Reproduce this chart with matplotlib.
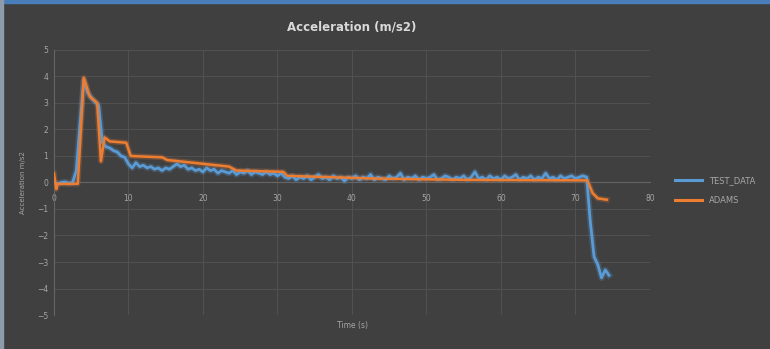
import numpy as np
import matplotlib
matplotlib.use("Agg")
import matplotlib.pyplot as plt
from matplotlib.patches import Rectangle

# TEST_DATA, sampled every 0.5 s
test_t = np.arange(0, 75, 0.5)
test_v = [
    0.00, -0.05, 0.00, 0.02, -0.03, 0.00, 0.45, 2.20, 3.85, 3.40,
    3.20, 3.05, 2.90, 1.50, 1.35, 1.30, 1.20, 1.15, 1.00, 0.95,
    0.70, 0.55, 0.75, 0.60, 0.65, 0.55, 0.60, 0.50, 0.55, 0.45,
    0.55, 0.50, 0.60, 0.70, 0.60, 0.65, 0.50, 0.55, 0.45, 0.50,
    0.40, 0.55, 0.45, 0.50, 0.35, 0.45, 0.40, 0.35, 0.45, 0.30,
    0.40, 0.35, 0.45, 0.30, 0.40, 0.35, 0.30, 0.40, 0.30, 0.35,
    0.25, 0.35, 0.20, 0.15, 0.25, 0.10, 0.20, 0.15, 0.25, 0.10,
    0.20, 0.30, 0.15, 0.20, 0.10, 0.25, 0.15, 0.20, 0.05, 0.20,
    0.15, 0.25, 0.10, 0.20, 0.15, 0.30, 0.10, 0.20, 0.15, 0.10,
    0.25, 0.15, 0.20, 0.35, 0.10, 0.20, 0.15, 0.25, 0.10, 0.20,
    0.15, 0.20, 0.30, 0.10, 0.15, 0.25, 0.20, 0.10, 0.20, 0.15,
    0.25, 0.10, 0.20, 0.40, 0.15, 0.20, 0.10, 0.25, 0.15, 0.20,
    0.10, 0.25, 0.15, 0.20, 0.30, 0.10, 0.20, 0.15, 0.25, 0.10,
    0.20, 0.15, 0.35, 0.15, 0.20, 0.10, 0.25, 0.15, 0.20, 0.25,
    0.15, 0.20, 0.25, 0.20, -1.50, -2.80, -3.10, -3.60, -3.30, -3.50,
]

# ADAMS simulation
adams_t = [0, 0.3, 0.5, 3.2, 4.0, 4.8, 5.8, 6.3, 6.8, 7.5, 9.7, 10.3,
           14.5, 15.2, 18.5, 23.5, 24.5, 30.8, 31.3, 43, 55, 71.6, 72.3,
           73.0, 74.2]
adams_v = [0.35, -0.25, -0.05, -0.05, 3.95, 3.25, 3.0, 0.8, 1.7, 1.55, 1.5,
           1.0, 0.95, 0.85, 0.75, 0.6, 0.45, 0.4, 0.25, 0.15, 0.1, 0.08,
           -0.4, -0.6, -0.65]

bg = "#404040"
grid_c = "#515151"
txt_c = "#a6a6a6"
blue = "#5b9bd5"
orange = "#ed7d31"

fig = plt.figure(figsize=(7.7, 3.49), dpi=100, facecolor=bg)
# window borders of the screenshot
fig.patches.append(Rectangle((0, 0.991), 1, 0.009, transform=fig.transFigure,
                             color="#4a7ebb", zorder=0))
fig.patches.append(Rectangle((0, 0), 0.004, 1, transform=fig.transFigure,
                             color="#8e9bab", zorder=0))

ax = fig.add_axes([0.0701, 0.0974, 0.7740, 0.7594], facecolor=bg)

# soft glow under the lines, like the blurry screenshot
ax.plot(test_t, test_v, color=blue, lw=4.5, alpha=0.25, zorder=2)
ax.plot(test_t, test_v, color=blue, lw=2.0, label="TEST_DATA", zorder=3)
ax.plot(adams_t, adams_v, color=orange, lw=4.0, alpha=0.25, zorder=2)
ax.plot(adams_t, adams_v, color=orange, lw=1.8, label="ADAMS", zorder=4)

ax.set_xlim(0, 80)
ax.set_ylim(-5, 5)
ax.set_xticks(range(0, 81, 10))
ax.set_yticks(range(-5, 6))
ax.grid(True, color=grid_c, lw=0.8)
ax.set_axisbelow(True)

for s in ["top", "right"]:
    ax.spines[s].set_visible(False)
ax.spines["bottom"].set_position(("data", 0))
ax.spines["bottom"].set_color("#656565")
ax.spines["left"].set_color("#656565")
ax.tick_params(axis="both", length=0, labelsize=5.5, labelcolor=txt_c, pad=4)
ax.tick_params(axis="x", pad=8)

ax.set_title("Acceleration (m/s2)", color="#d9d9d9", fontsize=8.5,
             fontweight="bold", pad=14)
ax.set_ylabel("Acceleration m/s2", color=txt_c, fontsize=5, labelpad=8)
fig.text(0.458, 0.068, "Time (s)", color=txt_c, fontsize=5.5,
         ha="center", va="center")

leg = ax.legend(loc="center left", bbox_to_anchor=(1.03, 0.47), frameon=False,
                fontsize=6, labelcolor=txt_c, handlelength=3.2,
                labelspacing=1.3)
for h in leg.get_lines():
    h.set_linewidth(2.2)

fig.savefig("out.png", dpi=100, facecolor=bg)
